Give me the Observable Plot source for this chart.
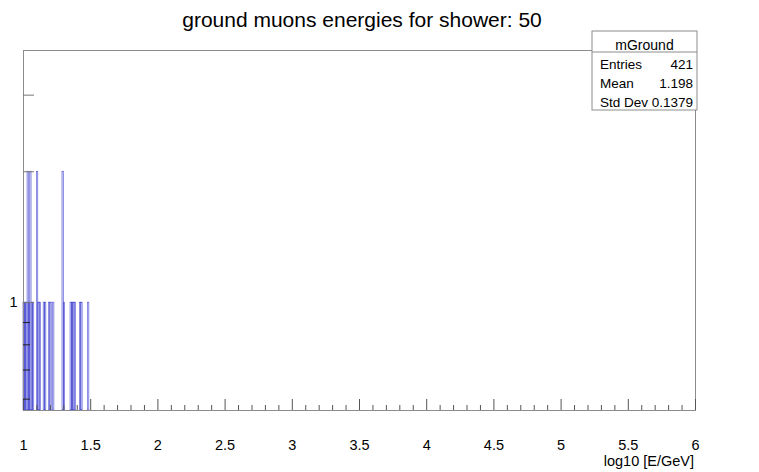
<!DOCTYPE html>
<html>
<head>
<meta charset="utf-8">
<script src="https://cdn.jsdelivr.net/npm/d3@7"></script>
<script src="https://cdn.jsdelivr.net/npm/@observablehq/plot@0.6"></script>
<style>
  html, body { margin: 0; padding: 0; background: #fff; }
  svg { font-family: "Liberation Sans", Arial, sans-serif; }
</style>
</head>
<body>
<div id="chart"></div>
<script>
// ---- data ----
const title = "ground muons energies for shower: 50";
const xLabel = "log10 [E/GeV]";
const binWidth = 0.01;
const binLow = [1.00, 1.01, 1.02, 1.03, 1.04, 1.05, 1.06, 1.07, 1.10, 1.11, 1.12, 1.15, 1.16, 1.19, 1.20, 1.22, 1.29, 1.30, 1.35, 1.36, 1.37, 1.38, 1.42, 1.43, 1.48];
const binCount = [1, 1, 1, 2, 1, 2, 1, 1, 2, 1, 1, 1, 1, 1, 1, 1, 2, 1, 1, 1, 1, 1, 1, 1, 1];
const xDomain = [1, 6];
const yDomain = [0.565, 3.8];
const xMajorTicks = [1, 1.5, 2, 2.5, 3, 3.5, 4, 4.5, 5, 5.5, 6];
const xMinorTicks = d3.range(10, 61).map(d => d / 10).filter(d => !xMajorTicks.includes(d));
const yMajorTicks = [1, 2, 3];
const yMinorTicks = [0.6, 0.7, 0.8, 0.9];
const yTickLabels = [1];
const statsName = "mGround";
const statsLabels = ["Entries", "Mean", "Std Dev"];
const statsValues = ["421", "1.198", "0.1379"];

const bins = binLow.map((lo, i) => ({x1: lo, x2: lo + binWidth, y: binCount[i]}));

const W = 759, H = 472;
const mL = 23, mR = 64, mT = 50, mB = 62;
const pw = W - mL - mR, ph = H - mT - mB;

const plot = Plot.plot({
  width: W, height: H,
  marginLeft: mL, marginRight: mR, marginTop: mT, marginBottom: mB,
  style: {fontFamily: "'Liberation Sans', Arial, sans-serif", fontSize: "14.5px", color: "#000", background: "#fff"},
  x: {domain: xDomain},
  y: {type: "log", domain: yDomain},
  marks: [
    Plot.rect(bins, {x1: "x1", x2: "x2", y1: () => yDomain[0], y2: "y",
      fill: "#4a4ad8", fillOpacity: 0.2, stroke: "#2a2acc", strokeWidth: 0.6, strokeOpacity: 0.8}),
    Plot.frame({stroke: "#8c8c8c", strokeWidth: 1}),
    Plot.ruleX(xMajorTicks, {insetTop: ph - 11, stroke: "#555", strokeWidth: 1}),
    Plot.ruleX(xMinorTicks, {insetTop: ph - 5, stroke: "#555", strokeWidth: 1}),
    Plot.ruleY(yMajorTicks, {insetRight: pw - 11, stroke: "#777", strokeWidth: 1}),
    Plot.ruleY(yMinorTicks, {insetRight: pw - 7, stroke: "#222", strokeWidth: 1}),
    Plot.axisX(xMajorTicks, {tickSize: 0, tickPadding: 29, fontSize: 14.5, label: null,
      tickFormat: d => String(d)}),
    Plot.axisY(yTickLabels, {tickSize: 0, tickPadding: 6, fontSize: 14.5, label: null,
      tickFormat: d => String(d)})
  ]
});

const svg = d3.select(plot);
// title
svg.append("text").attr("x", 362).attr("y", 27).attr("text-anchor", "middle")
  .attr("font-size", 21).attr("fill", "#000").text(title);
// x label
svg.append("text").attr("x", mL + pw - 1).attr("y", 466).attr("text-anchor", "end")
  .attr("font-size", 14.5).attr("fill", "#000").text(xLabel);
// stats box
const bx = 592, by = 31, bw = 105, bh = 79;
const g = svg.append("g");
g.append("rect").attr("x", bx).attr("y", by).attr("width", bw).attr("height", bh)
  .attr("fill", "#fff").attr("stroke", "#8c8c8c");
g.append("line").attr("x1", bx).attr("x2", bx + bw).attr("y1", by + 21).attr("y2", by + 21)
  .attr("stroke", "#8c8c8c");
g.append("text").attr("x", bx + bw / 2).attr("y", by + 19).attr("text-anchor", "middle")
  .attr("font-size", 14).text(statsName);
statsLabels.forEach((lab, i) => {
  const yy = by + 38 + i * 19;
  g.append("text").attr("x", bx + 8).attr("y", yy).attr("text-anchor", "start")
    .attr("font-size", 13.5).text(lab);
  g.append("text").attr("x", bx + bw - 4).attr("y", yy).attr("text-anchor", "end")
    .attr("font-size", 13.5).text(statsValues[i]);
});

document.getElementById("chart").appendChild(plot);
</script>
</body>
</html>
